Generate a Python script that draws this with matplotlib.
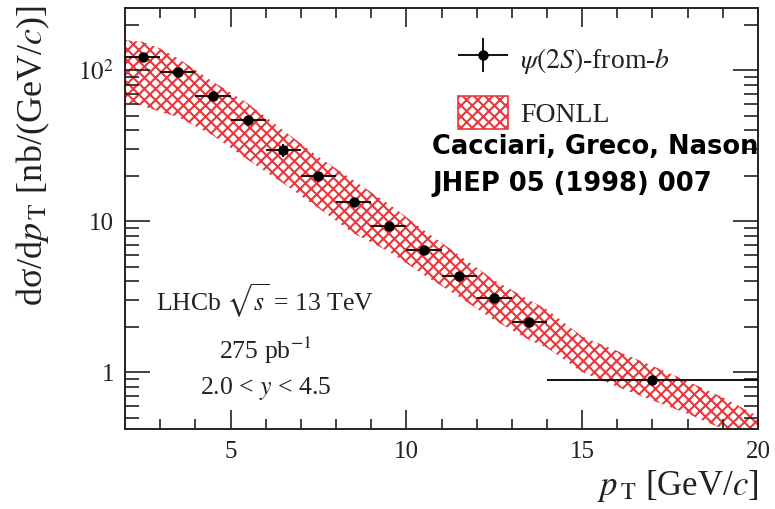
import matplotlib
matplotlib.use("Agg")
import matplotlib.pyplot as plt
import numpy as np
from matplotlib.patches import Patch
from matplotlib.legend_handler import HandlerErrorbar
from matplotlib.ticker import FixedLocator, NullFormatter, FixedFormatter

plt.rcParams['font.family'] = ['Liberation Serif', 'DejaVu Serif']
plt.rcParams['mathtext.fontset'] = 'stix'
plt.rcParams['hatch.linewidth'] = 1.5

# data: psi(2S)-from-b
pt_centers = [2.5, 3.5, 4.5, 5.5, 6.5, 7.5, 8.5, 9.5, 10.5, 11.5, 12.5, 13.5, 17.0]
pt_halfwidth = [0.5] * 12 + [3.0]
xsec = [122, 97.5, 67.6, 46.7, 29.5, 19.9, 13.4, 9.3, 6.4, 4.35, 3.1, 2.15, 0.89]
xsec_err = [8, 5, 3.5, 2.5, 2.8, 1.0, 0.7, 0.45, 0.3, 0.2, 0.15, 0.1, 0.05]

# FONLL band
fonll_pt = [2.0, 2.5, 3.0, 3.5, 4.5, 5.5, 6.5, 7.5, 8.5, 9.5, 10.5, 11.5, 12.5, 13.5,
            14.0, 15.0, 16.0, 17.0, 18.0, 19.0, 20.0]
fonll_lo = [61, 58, 53, 49, 37, 25.4, 17.8, 12.2, 8.3, 6.3, 4.4, 3.15, 2.21, 1.63,
            1.45, 1.0, 0.8, 0.65, 0.53, 0.42, 0.33]
fonll_hi = [158, 154, 139, 120, 84, 60, 40, 26.7, 18.6, 13.0, 8.7, 5.96, 4.06, 3.0,
            2.6, 1.72, 1.38, 1.1, 0.87, 0.68, 0.51]

red = '#e8383c'
hatch = 'xxx'

fig = plt.figure(figsize=(7.75, 5.09), dpi=100)
ax = fig.add_axes([125/775, 1-429/509, (758-125)/775, (429-8)/509])

band = ax.fill_between(fonll_pt, fonll_lo, fonll_hi, facecolor='none',
                       edgecolor=red, hatch=hatch, linewidth=0, zorder=1)

eb = ax.errorbar(pt_centers, xsec, xerr=pt_halfwidth, yerr=xsec_err, fmt='o',
                 color='black', ms=6.5, elinewidth=1.3, capsize=0, zorder=3)

ax.set_yscale('log')
ax.set_xlim(2, 20)
ax.set_ylim(0.42, 258)

ax.xaxis.set_major_locator(FixedLocator([5, 10, 15, 20]))
ax.xaxis.set_minor_locator(FixedLocator(np.arange(3, 20, 1)))
ax.set_xticklabels(['5', '10', '15', '20'])
ax.yaxis.set_major_locator(FixedLocator([1, 10, 100]))
ax.yaxis.set_major_formatter(FixedFormatter(['1', '10', r'$10^2$']))
minors = [v * d for d in [0.1, 1, 10, 100] for v in range(2, 10)]
ax.yaxis.set_minor_locator(FixedLocator(minors))
ax.yaxis.set_minor_formatter(NullFormatter())

ax.tick_params(which='both', direction='in', top=True, right=True,
               labelsize=18, colors='#222222', width=1.2)
ax.tick_params(axis='y', which='major', length=18, pad=8)
ax.tick_params(axis='y', which='minor', length=10)
ax.tick_params(axis='x', which='major', length=14, pad=9)
ax.tick_params(axis='x', which='minor', length=7)
for s in ax.spines.values():
    s.set_linewidth(1.4)
    s.set_color('#222222')

fig.text(33/775, 1-5/509, r'dσ/d$p_{\,\mathrm{T}}$ [nb/(GeV/$c$)]',
         rotation=90, ha='center', va='top', fontsize=26, color='#222222')
fig.text(758/775, 1-486/509, r'$p_{\,\mathrm{T}}$ [GeV/$c$]',
         ha='right', va='center', fontsize=25, color='#222222')

ax.text(0.222, 0.305, r'LHCb $\sqrt{s}$ = 13 TeV', transform=ax.transAxes,
        ha='center', va='center', fontsize=18.5, color='#222222')
ax.text(0.222, 0.187, r'275 pb$^{-1}$', transform=ax.transAxes,
        ha='center', va='center', fontsize=18.5, color='#222222')
ax.text(0.222, 0.097, r'2.0 < $y$ < 4.5', transform=ax.transAxes,
        ha='center', va='center', fontsize=18.5, color='#222222')

fonll_patch = Patch(facecolor='none', edgecolor=red, hatch=hatch, linewidth=1.2)
leg = ax.legend([eb, fonll_patch],
                [r'$\mathit{\psi(2S)}$-from-$b$', 'FONLL'],
                loc='upper left', bbox_to_anchor=(458/775, 1-42/509),
                bbox_transform=fig.transFigure, frameon=False, fontsize=20,
                borderpad=0, borderaxespad=0, handlelength=1.8, handleheight=1.44,
                handletextpad=0.45, labelspacing=0.75,
                handler_map={type(eb): HandlerErrorbar(xerr_size=0.9, yerr_size=0.61)})
for t in leg.get_texts():
    t.set_color('#222222')

fig.text(432/775, 1-147/509, 'Cacciari, Greco, Nason', ha='left', va='center',
         fontsize=18.5, fontweight='bold', family='DejaVu Sans', color='black')
fig.text(432/775, 1-184/509, 'JHEP 05 (1998) 007', ha='left', va='center',
         fontsize=18.5, fontweight='bold', family='DejaVu Sans', color='black')

fig.savefig('out.png', dpi=100)
